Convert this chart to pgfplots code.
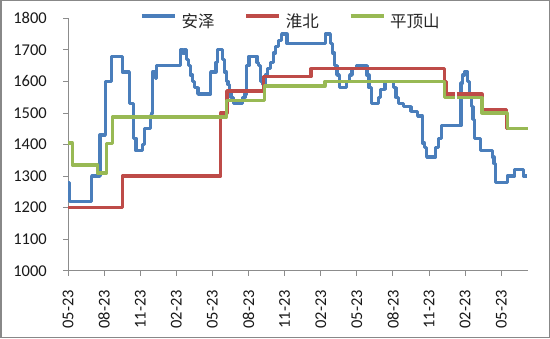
\documentclass[border=0pt]{standalone}
\usepackage{pgfplots}
\pgfplotsset{compat=1.18}
\usepackage{fontspec}
\setmainfont{Carlito}
\newfontfamily\cjk{Noto Sans CJK SC}
\definecolor{cblue}{HTML}{4A7EBB}
\definecolor{cred}{HTML}{BE4B48}
\definecolor{cgreen}{HTML}{98B954}
\definecolor{axgray}{HTML}{8C8C8C}
\definecolor{bordergray}{HTML}{888888}
\tikzset{ser/.style={line width=3.3bp, line join=round, const plot}}
\begin{document}
\begin{tikzpicture}[x=1bp,y=1bp]
\useasboundingbox (0,0) rectangle (550,338);
\fill[white] (0,0) rectangle (550,338);
\draw[bordergray, line width=1.5bp] (0.75,0.75) rectangle (549.25,337.25);
\begin{axis}[
  at={(68bp,67.3bp)}, anchor=south west,
  scale only axis, width=459.7bp, height=252.4bp,
  xmin=0, xmax=38.2, ymin=1000, ymax=1800,
  axis x line*=bottom, axis y line*=left,
  axis line style={axgray, line width=0.9bp, -},
  xtick={0,3,...,36},
  xticklabels={05-23,08-23,11-23,02-23,05-23,08-23,11-23,02-23,05-23,08-23,11-23,02-23,05-23},
  ytick={1000,1100,...,1800},
  tick align=outside, major tick length=5bp,
  tick style={axgray, line width=0.9bp},
  /pgf/number format/assume math mode=true,
  /pgf/number format/1000 sep={},
  tick label style={font=\fontsize{16.5bp}{19bp}\selectfont, text=black!90, inner sep=0pt},
  yticklabel style={anchor=east},
  xticklabel style={rotate=90, anchor=east},
  yticklabel shift=16bp,
  xticklabel shift=14.3bp,
  clip=false,
  legend style={at={(0.483,0.9865)}, anchor=center, draw=none, fill=none,
    font=\cjk\fontsize{16.5bp}{19bp}\selectfont, text=black!85,
    nodes={inner sep=0pt},
    /tikz/every even column/.append style={column sep=30bp}},
  legend columns=-1,
  legend image code/.code={\draw[#1] (0bp,5.8bp) -- (33bp,5.8bp); \path (38bp,0bp);},
]
\addplot[cblue, ser] coordinates {
(0,1280)(0.12,1220)(1.97,1300)(2.66,1430)(3.1,1600)(3.63,1680)(4.5,1630)(5.1,1530)(5.43,1420)(5.65,1380)(6.2,1400)(6.35,1450)(6.85,1490)(6.95,1500)(7.05,1630)(7.25,1610)(7.35,1650)(9.35,1700)(9.55,1690)(9.7,1700)(9.85,1670)(10.0,1650)(10.15,1620)(10.35,1600)(10.5,1580)(10.8,1560)(11.85,1630)(12.3,1660)(12.45,1700)(12.85,1670)(13.0,1630)(13.15,1600)(13.3,1590)(13.4,1570)(13.55,1550)(13.75,1530)(14.5,1550)(14.7,1560)(14.85,1650)(15.05,1680)(15.7,1660)(15.85,1650)(16.0,1600)(16.15,1590)(16.4,1620)(16.6,1640)(16.85,1660)(17.05,1690)(17.25,1710)(17.5,1730)(17.75,1750)(18.2,1720)(21.4,1750)(21.8,1720)(22.0,1690)(22.15,1650)(22.35,1620)(22.55,1580)(23.15,1600)(23.4,1620)(23.6,1640)(24.0,1650)(24.85,1620)(25.0,1580)(25.2,1530)(25.8,1550)(25.95,1575)(26.35,1600)(27.05,1580)(27.25,1550)(27.45,1530)(27.9,1520)(28.5,1505)(29.05,1490)(29.45,1405)(29.6,1390)(29.8,1360)(30.55,1390)(30.8,1420)(31.05,1460)(32.65,1595)(32.8,1620)(32.95,1630)(33.2,1600)(33.35,1550)(33.5,1520)(33.65,1480)(33.8,1420)(34.3,1380)(35.25,1360)(35.4,1340)(35.55,1280)(36.5,1300)(37.1,1320)(37.85,1300)(38.1,1300)
};
\addlegendentry{安泽}
\addplot[cred, ser] coordinates {
(0,1200)(4.52,1300)(12.7,1500)(13.2,1570)(16.22,1615)(20.2,1640)(31.3,1600)(31.45,1560)(32.15,1560)
};
\addlegendentry{淮北}
\addplot[cgreen, ser] coordinates {
(0,1405)(0.35,1335)(2.45,1310)(3.2,1403)(3.7,1487)(13.15,1540)(16.35,1585)(21.35,1600)(31.3,1550)(32.15,1550)
};
\addlegendentry{平顶山}
\addplot[cred, ser, forget plot] coordinates {
(32.3,1560)(34.4,1510)(36.45,1450)(38.2,1450)
};
\addplot[cgreen, ser, forget plot] coordinates {
(32.3,1548)(34.4,1500)(36.5,1450)(38.2,1450)
};
\end{axis}
\end{tikzpicture}
\end{document}
